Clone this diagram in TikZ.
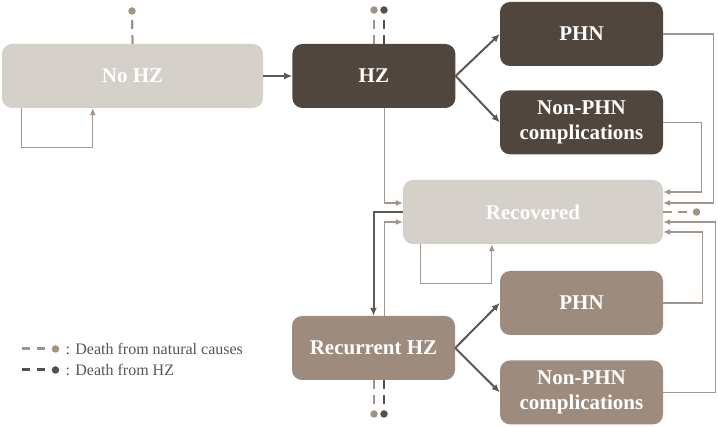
\documentclass[tikz,border=0pt]{standalone}
\usepackage{fontspec}
\setmainfont{Liberation Serif}
\usepackage{tikz}
\usetikzlibrary{
	positioning,
	arrows.meta
}

\definecolor{boxlight}{HTML}{D5D0CA}
\definecolor{boxdark}{HTML}{51463D}
\definecolor{boxmid}{HTML}{9D8C7E}
\definecolor{thinline}{HTML}{A0968D}
\definecolor{thickline}{HTML}{5E5851}
\definecolor{natcol}{HTML}{A09384}
\definecolor{hzcol}{HTML}{56504A}
\definecolor{legtext}{HTML}{595550}

\tikzset{
	zone/.style={rectangle, rounded corners=10pt, minimum width=163pt,
		minimum height=64pt, inner sep=0pt, align=center, text=white,
		font=\bfseries\fontsize{21}{25}\selectfont},
	stlight/.style={zone, fill=boxlight},
	stdark/.style={zone, fill=boxdark},
	stmid/.style={zone, fill=boxmid},
	flow/.style={draw=thinline, line width=1.1pt, -{Latex[length=7pt,width=6pt]}},
	mainflow/.style={draw=thickline, line width=2pt, -{Latex[length=8pt,width=7pt]}},
	death/.style={dash pattern=on 9pt off 6pt, line width=2.2pt},
	deathdot/.style={circle, inner sep=0pt, minimum size=7.5pt},
	legdash/.style={dash pattern=on 8pt off 7pt, line width=3pt}
}

\begin{document}
\begin{tikzpicture}[x=1pt, y=-1pt]
	\useasboundingbox (0,0) rectangle (718,427);

	% states
	\path
		node [stlight, minimum width=261pt] (noHZ) at (132.5,76) {No HZ}
		node [stdark, right=29pt of noHZ]    (HZ)   {HZ}
		node [stdark]                        (phnA) at (581.5,34) {PHN}
		node [stdark, below=24pt of phnA]    (cmpA) {Non-PHN\\complications}
		node [stlight, minimum width=260pt]  (rec)  at (533,212) {Recovered}
		node [stmid]                         (phnB) at (581.5,303) {PHN}
		node [stmid, below=25pt of phnB]     (cmpB) {Non-PHN\\complications}
		node [stmid]                         (rhz)  at (373.5,348) {Recurrent HZ}
	;

	% death states
	\path
		node [deathdot, fill=natcol] (dNo)  at (132,11) {}
		node [deathdot, fill=natcol] (dHZa) at (374,10) {}
		node [deathdot, fill=hzcol]  (dHZb) at (384,10) {}
		node [deathdot, fill=natcol] (dRec) at (696.5,212) {}
		node [deathdot, fill=natcol] (dRa)  at (374,414) {}
		node [deathdot, fill=hzcol]  (dRb)  at (384,414) {}
	;
	\draw[death, natcol] (noHZ.north) -- (dNo);
	\draw[death, natcol] (HZ.north -| dHZa) -- (dHZa);
	\draw[death, hzcol]  (HZ.north -| dHZb) -- (dHZb);
	\draw[death, natcol] (rec.east) -- (dRec);
	\draw[death, natcol] (rhz.south -| dRa) -- (dRa);
	\draw[death, hzcol]  (rhz.south -| dRb) -- (dRb);

	% transitions
	\draw[mainflow] (noHZ.east) -- (HZ.west);
	\draw[flow] ([xshift=20pt]noHZ.south west) -- ++(0,39) -| ([xshift=91pt]noHZ.south west);
	\draw[mainflow] (HZ.east) -- (phnA.west);
	\draw[mainflow] (HZ.east) -- (cmpA.west);
	\draw[flow] ([xshift=11pt]HZ.south) |- ([yshift=9pt]rec.west);
	\draw[mainflow] (rec.west) -| (rhz.north);
	\draw[flow] ([xshift=11pt]rhz.north) |- ([yshift=-10pt]rec.west);
	\draw[flow] ([xshift=18pt]rec.south west) -- ++(0,39) -| ([xshift=89pt]rec.south west);
	\draw[flow] (phnA.east) -- ++(50,0) |- ([yshift=9pt]rec.east);
	\draw[flow] (cmpA.east) -- ++(38,0) |- ([yshift=20pt]rec.east);
	\draw[flow] (cmpB.east) -- ++(52,0) |- ([yshift=-10pt]rec.east);
	\draw[flow] (phnB.east) -- ++(39,0) |- ([yshift=-20pt]rec.east);
	\draw[mainflow] (rhz.east) -- (phnB.west);
	\draw[mainflow] (rhz.east) -- (cmpB.west);

	% legend
	\coordinate (lgNatA) at (22,349);
	\coordinate (lgHZA)  at (22,370);
	\path
		node [deathdot, fill=natcol] (lgNat) at (55.5,349) {}
		node [deathdot, fill=hzcol]  (lgHZ)  at (55.5,370) {}
		node [right=6pt of lgNat, inner sep=0pt, text=legtext,
			font=\fontsize{16}{18}\selectfont] (lgNatTxt) {: Death from natural causes}
		node [right=6pt of lgHZ, inner sep=0pt, text=legtext,
			font=\fontsize{16}{18}\selectfont] (lgHZTxt) {: Death from HZ}
	;
	\draw[legdash, natcol] (lgNatA) -- (lgNat);
	\draw[legdash, hzcol]  (lgHZA) -- (lgHZ);
\end{tikzpicture}
\end{document}
